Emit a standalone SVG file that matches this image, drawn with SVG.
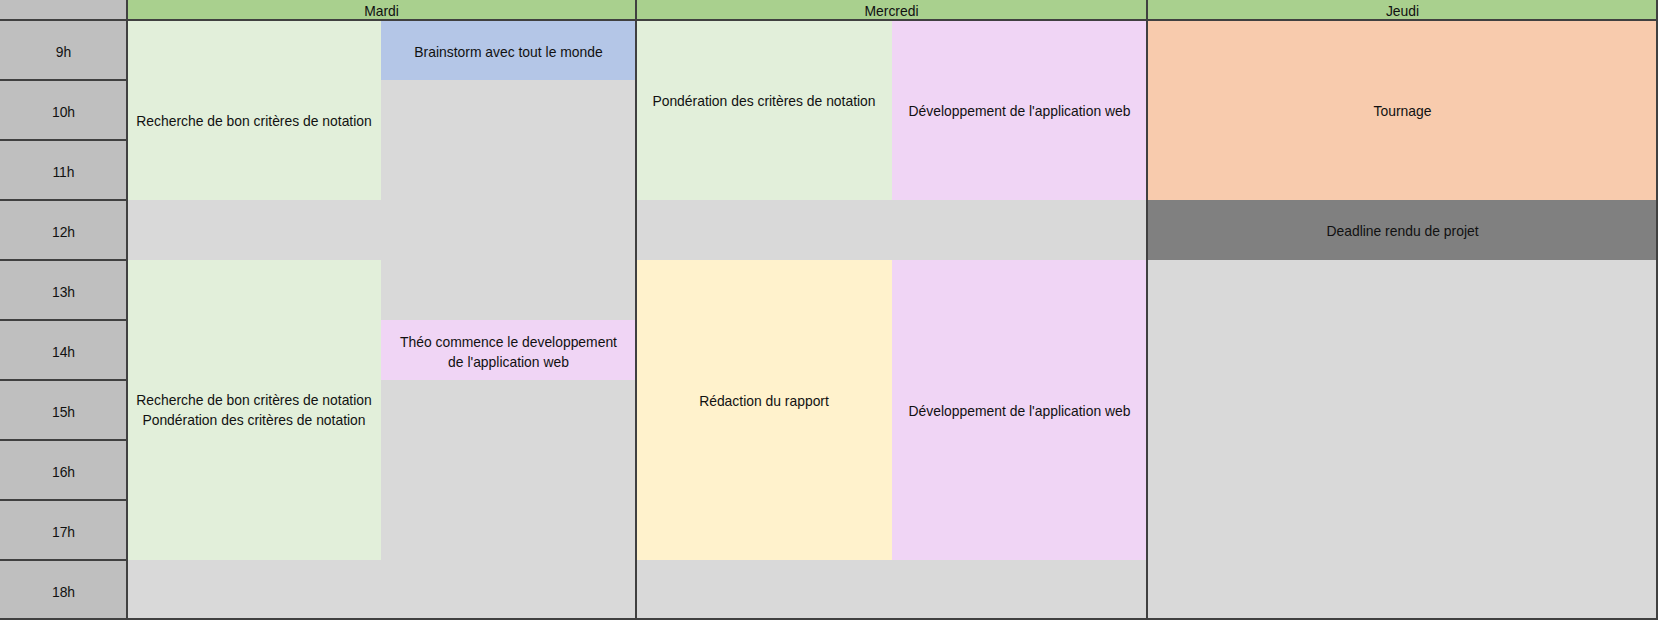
<svg xmlns="http://www.w3.org/2000/svg" width="1658" height="620" viewBox="0 0 1658 620">
<style>
text{font-family:"Liberation Sans",Arial,sans-serif;font-size:13.9px;fill:#111;text-anchor:middle}
.hour{fill:#BFBFBF}
.head{fill:#A9D08E}
.green{fill:#E2EFDA}
.blue{fill:#B4C6E7}
.gray{fill:#D9D9D9}
.pink{fill:#F0D5F5}
.yellow{fill:#FFF2CC}
.orange{fill:#F8CBAD}
.dark{fill:#808080}
.ln{stroke:#404040;stroke-width:2;fill:none}
</style>
<rect x="0" y="0" width="1658" height="620" fill="#D9D9D9"/>
<g id="hours">
<rect class="hour" x="0" y="0" width="127" height="620"/>
<text x="63.5" y="56.5">9h</text>
<text x="63.5" y="116.5">10h</text>
<text x="63.5" y="176.5">11h</text>
<text x="63.5" y="236.5">12h</text>
<text x="63.5" y="296.5">13h</text>
<text x="63.5" y="356.5">14h</text>
<text x="63.5" y="416.5">15h</text>
<text x="63.5" y="476.5">16h</text>
<text x="63.5" y="536.5">17h</text>
<text x="63.5" y="596.5">18h</text>
</g>
<g id="header-mardi"><rect class="head" x="127" y="0" width="509" height="20"/><text x="381.5" y="15.5">Mardi</text></g>
<g id="header-mercredi"><rect class="head" x="636" y="0" width="511" height="20"/><text x="891.5" y="15.5">Mercredi</text></g>
<g id="header-jeudi"><rect class="head" x="1147" y="0" width="511" height="20"/><text x="1402.5" y="15.5">Jeudi</text></g>
<g id="mardi-background"><rect class="gray" x="127" y="20" width="509" height="600"/></g>
<g id="mardi-recherche"><rect class="green" x="127" y="20" width="254" height="180"/><text x="254" y="125.5">Recherche de bon critères de notation</text></g>
<g id="mardi-brainstorm"><rect class="blue" x="381" y="20" width="255" height="60"/><text x="508.5" y="57">Brainstorm avec tout le monde</text></g>
<g id="mardi-recherche-ponderation"><rect class="green" x="127" y="260" width="254" height="300"/><text x="254" y="405">Recherche de bon critères de notation</text><text x="254" y="425">Pondération des critères de notation</text></g>
<g id="mardi-theo"><rect class="pink" x="381" y="320" width="255" height="60"/><text x="508.5" y="347">Théo commence le developpement</text><text x="508.5" y="366.5">de l'application web</text></g>
<g id="mercredi-ponderation"><rect class="green" x="636" y="20" width="256" height="180"/><text x="764" y="105.5">Pondération des critères de notation</text></g>
<g id="mercredi-dev-matin"><rect class="pink" x="892" y="20" width="255" height="180"/><text x="1019.5" y="115.5">Développement de l'application web</text></g>
<g id="mercredi-redaction"><rect class="yellow" x="636" y="260" width="256" height="300"/><text x="764" y="405.5">Rédaction du rapport</text></g>
<g id="mercredi-dev-aprem"><rect class="pink" x="892" y="260" width="255" height="300"/><text x="1019.5" y="416">Développement de l'application web</text></g>
<g id="jeudi-tournage"><rect class="orange" x="1147" y="20" width="511" height="180"/><text x="1402.5" y="115.5">Tournage</text></g>
<g id="jeudi-deadline"><rect class="dark" x="1147" y="200" width="511" height="60"/><text x="1402.5" y="235.5">Deadline rendu de projet</text></g>
<g id="grid">
<path class="ln" d="M127 0V620M636 0V620M1147 0V620M1657 0V620M0 20H1658M0 619H1658"/>
<path class="ln" d="M0 80H127M0 140H127M0 200H127M0 260H127M0 320H127M0 380H127M0 440H127M0 500H127M0 560H127"/>
</g>
</svg>
